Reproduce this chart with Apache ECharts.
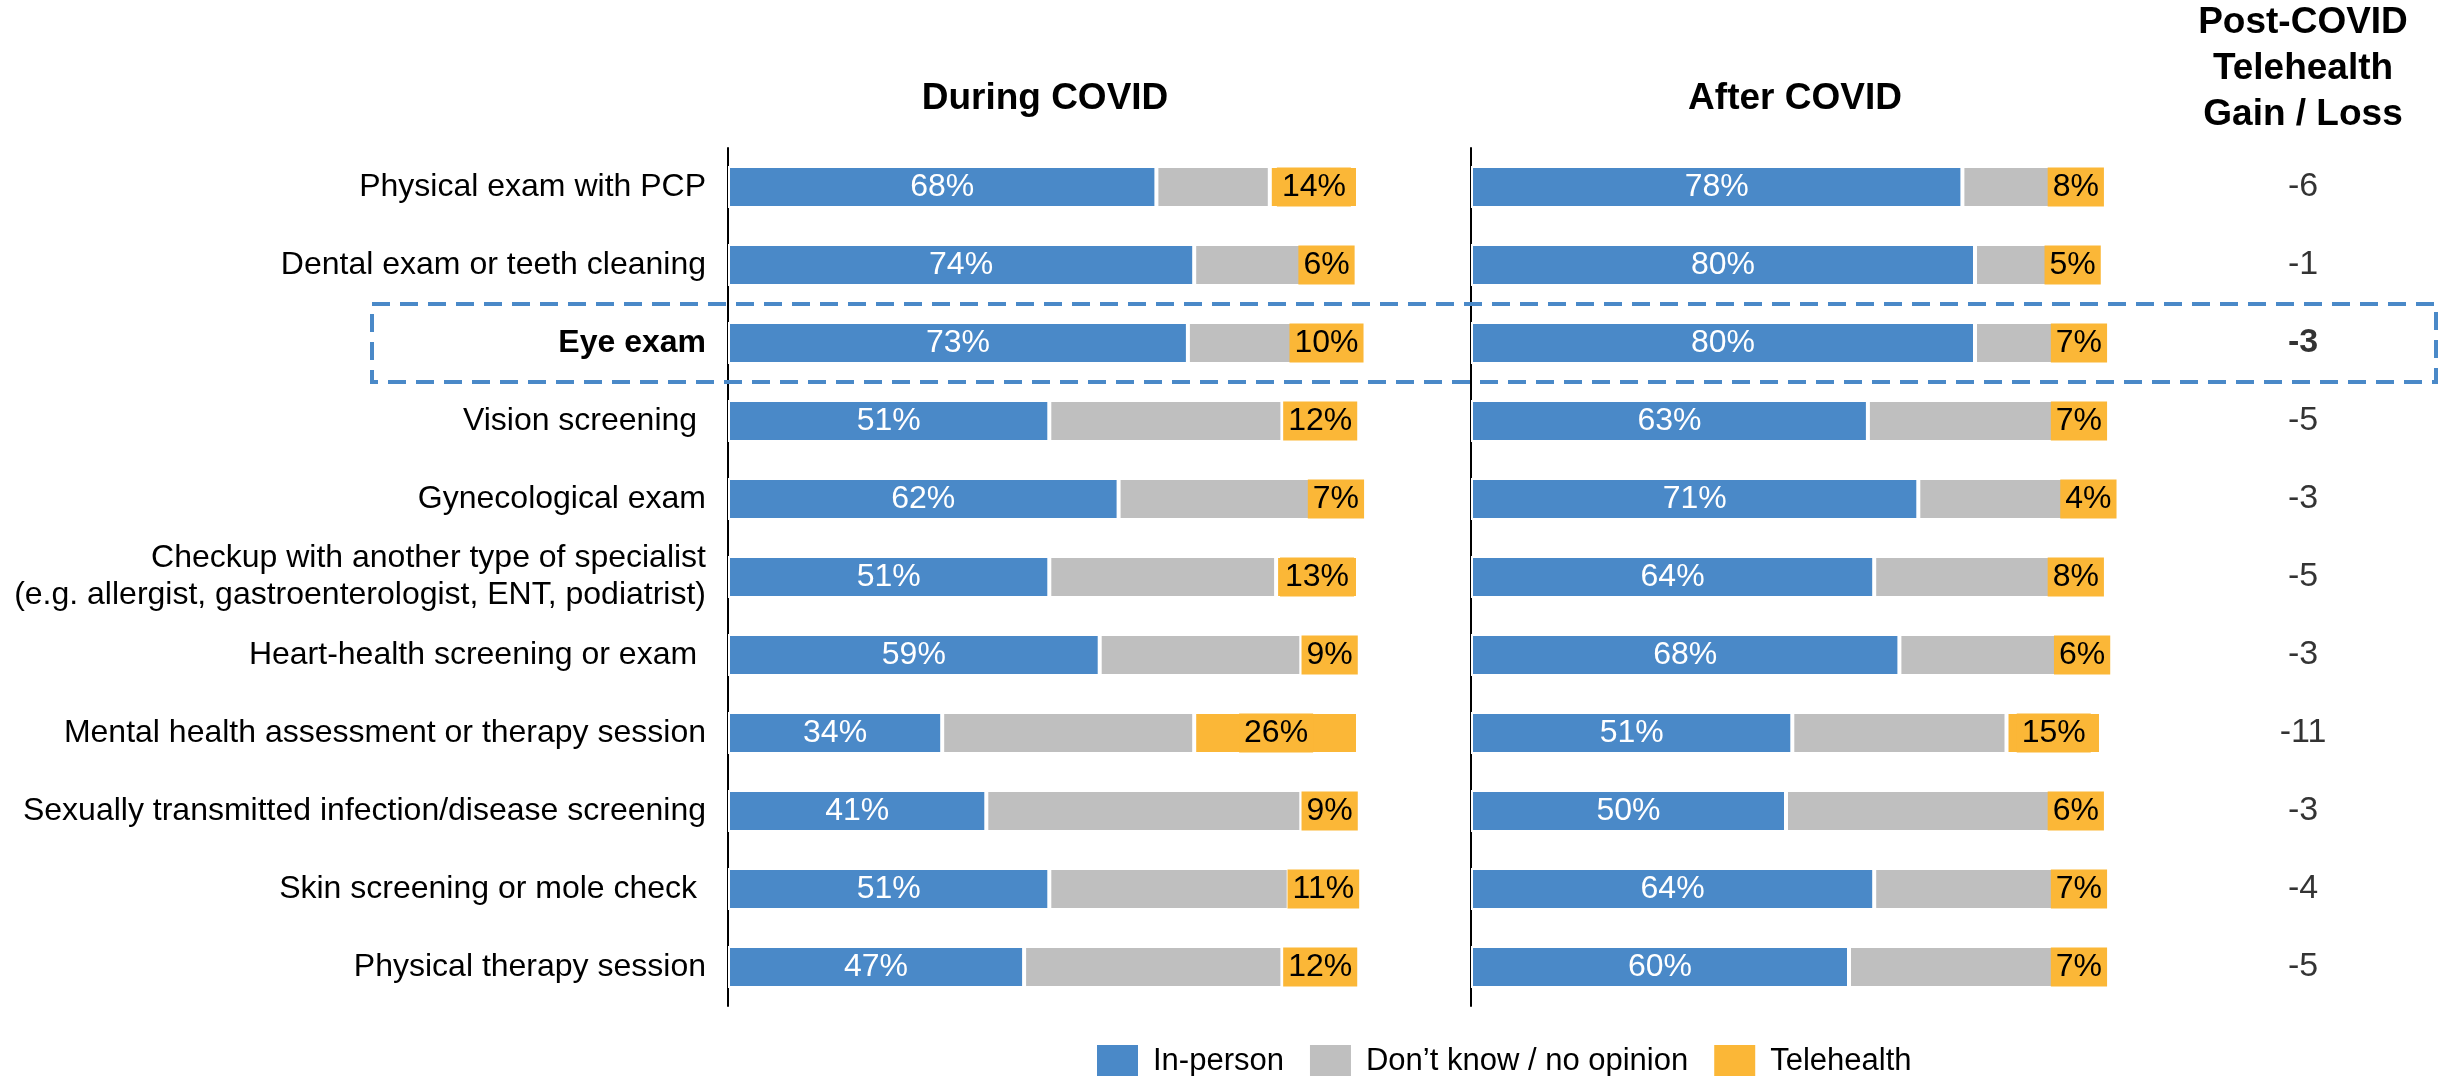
<!DOCTYPE html>
<html>
<head>
<meta charset="utf-8">
<script src="https://cdn.jsdelivr.net/npm/echarts@6/dist/echarts.min.js"></script>
<style>
  html, body { margin: 0; padding: 0; background: #fff; }
  #chart { width: 2451px; height: 1076px; }
</style>
</head>
<body>
<div id="chart"></div>
<script>
// Visit types (trailing spaces kept as typed in the source deck)
const categories = [
  'Physical exam with PCP',
  'Dental exam or teeth cleaning',
  'Eye exam',
  'Vision screening ',
  'Gynecological exam',
  'Checkup with another type of specialist\n(e.g. allergist, gastroenterologist, ENT, podiatrist)',
  'Heart-health screening or exam ',
  'Mental health assessment or therapy session',
  'Sexually transmitted infection/disease screening',
  'Skin screening or mole check ',
  'Physical therapy session'
];
const highlighted = 'Eye exam';

const seriesNames = ['In-person', 'Don\u2019t know / no opinion', 'Telehealth'];

// During COVID (%)
const duringInPerson = [68, 74, 73, 51, 62, 51, 59, 34, 41, 51, 47];
const duringUnsure   = [18, 18, 17, 37, 31, 36, 32, 40, 50, 38, 41];
const duringTele     = [14,  6, 10, 12,  7, 13,  9, 26,  9, 11, 12];

// After COVID (%)
const afterInPerson = [78, 80, 80, 63, 71, 64, 68, 51, 50, 64, 60];
const afterUnsure   = [14, 13, 13, 30, 25, 28, 26, 34, 43, 29, 33];
const afterTele     = [ 8,  5,  7,  7,  4,  8,  6, 15,  6,  7,  7];

// Post-COVID telehealth gain / loss (points)
const gainLoss = [-6, -1, -3, -5, -3, -5, -3, -11, -3, -4, -5];

const FONT = '"Liberation Sans", Arial, sans-serif';
const BLUE = '#4A89C8';
const GRAY = '#BFBFBF';
const ORANGE = '#FBB737';

const gridTop = 148, gridHeight = 858;

function catAxis(gridIndex, showLabels) {
  return {
    type: 'category',
    gridIndex: gridIndex,
    data: categories,
    inverse: true,
    show: gridIndex !== 2,
    axisLine: { show: gridIndex !== 2, lineStyle: { color: '#000', width: 2 } },
    axisTick: { show: false },
    splitLine: { show: false },
    axisLabel: {
      show: showLabels,
      interval: 0,
      margin: 22,
      color: '#000',
      fontFamily: FONT,
      fontSize: 32,
      lineHeight: 37,
      formatter: v => (v === highlighted ? '{hl|' + v + '}' : v),
      rich: { hl: { fontWeight: 'bold', fontSize: 32, fontFamily: FONT, color: '#000' } }
    }
  };
}

function valAxis(gridIndex, min, max) {
  return { type: 'value', gridIndex: gridIndex, min: min, max: max, show: false };
}

const innerLabel = { show: true, position: 'inside', color: '#fff', fontSize: 32, fontFamily: FONT, formatter: '{c}%' };
const teleLabel = {
  show: true, position: 'inside', color: '#000', fontSize: 32, fontFamily: FONT,
  formatter: '{c}%', backgroundColor: ORANGE, padding: [3, 5, 3, 5], lineHeight: 33
};

function bar(name, data, idx, stack, color, label) {
  return {
    type: 'bar', name: name, data: data,
    xAxisIndex: idx, yAxisIndex: idx, stack: stack,
    barWidth: 42,
    itemStyle: { color: color, borderColor: '#fff', borderWidth: 2 },
    label: label || { show: false },
    emphasis: { disabled: true }
  };
}

const headerStyle = { fontSize: 37, fontWeight: 'bold', color: '#000', fontFamily: FONT };

const chart = echarts.init(document.getElementById('chart'), null, { renderer: 'canvas' });

chart.setOption({
  animation: false,
  backgroundColor: '#fff',
  textStyle: { fontFamily: FONT },
  title: [
    { text: 'During COVID', left: 1045, top: 77, padding: 0, textAlign: 'center',
      textStyle: Object.assign({ lineHeight: 44 }, headerStyle) },
    { text: 'After COVID', left: 1795, top: 77, padding: 0, textAlign: 'center',
      textStyle: Object.assign({ lineHeight: 44 }, headerStyle) },
    { text: 'Post-COVID\nTelehealth\nGain / Loss', left: 2303, top: 0, padding: 0, textAlign: 'center',
      textStyle: Object.assign({ lineHeight: 46 }, headerStyle) }
  ],
  legend: {
    data: seriesNames,
    left: 1095, top: 1043, padding: 0,
    icon: 'rect', itemWidth: 43, itemHeight: 34, itemGap: 24,
    selectedMode: false,
    textStyle: { fontSize: 31, color: '#000', fontFamily: FONT, lineHeight: 34, padding: [0, 0, 0, 9] }
  },
  grid: [
    { left: 728, top: gridTop, width: 630, height: gridHeight, outerBoundsMode: 'none' },
    { left: 1471, top: gridTop, width: 630, height: gridHeight, outerBoundsMode: 'none' },
    { left: 2203, top: gridTop, width: 200, height: gridHeight, outerBoundsMode: 'none' }
  ],
  xAxis: [valAxis(0, 0, 100), valAxis(1, 0, 100), valAxis(2, -1, 1)],
  yAxis: [catAxis(0, true), catAxis(1, false), catAxis(2, false)],
  series: [
    bar(seriesNames[0], duringInPerson, 0, 'during', BLUE, innerLabel),
    bar(seriesNames[1], duringUnsure, 0, 'during', GRAY),
    bar(seriesNames[2], duringTele, 0, 'during', ORANGE, teleLabel),
    bar(seriesNames[0], afterInPerson, 1, 'after', BLUE, innerLabel),
    bar(seriesNames[1], afterUnsure, 1, 'after', GRAY),
    bar(seriesNames[2], afterTele, 1, 'after', ORANGE, teleLabel),
    {
      type: 'scatter',
      xAxisIndex: 2, yAxisIndex: 2,
      symbolSize: 1,
      silent: true,
      itemStyle: { color: 'rgba(0,0,0,0)' },
      data: gainLoss.map((v, i) => ({
        value: [0, categories[i]],
        label: categories[i] === highlighted ? { fontWeight: 'bold' } : {}
      })),
      label: {
        show: true, position: 'inside', color: '#000', fontSize: 34, fontFamily: FONT,
        formatter: p => String(gainLoss[p.dataIndex])
      }
    }
  ]
});

// Dashed frame around the highlighted row, spanning labels, both panels and the gain column
const yHi = chart.convertToPixel({ yAxisIndex: 0 }, highlighted);
const rowStep = chart.convertToPixel({ yAxisIndex: 0 }, categories[1]) - chart.convertToPixel({ yAxisIndex: 0 }, categories[0]);
chart.setOption({
  graphic: [{
    type: 'rect',
    z: 100,
    silent: true,
    shape: { x: 372, y: yHi - rowStep / 2, width: 2436 - 372, height: rowStep },
    style: { fill: 'none', stroke: BLUE, lineWidth: 4, lineDash: [18, 10] }
  }]
});
</script>
</body>
</html>
